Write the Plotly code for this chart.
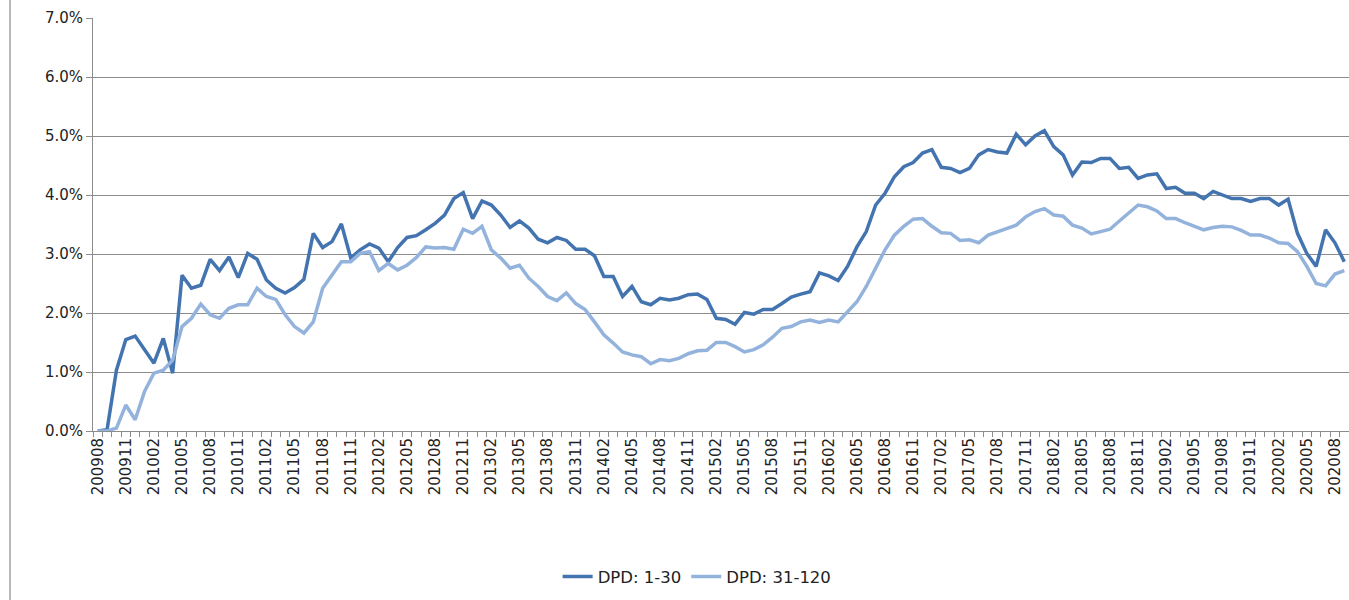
import plotly.graph_objects as go

# Categories: monthly labels 200908 .. 202009
months = []
y, m = 2009, 8
while (y, m) <= (2020, 9):
    months.append(f"{y}{m:02d}")
    m += 1
    if m > 12:
        m, y = 1, y + 1

dpd_1_30 = [
    0.00, 0.02, 1.03, 1.55, 1.61, 1.37, 1.15, 1.57, 0.98, 2.64,
    2.42, 2.47, 2.91, 2.72, 2.95, 2.60, 3.01, 2.91, 2.56, 2.42,
    2.34, 2.43, 2.57, 3.35, 3.11, 3.21, 3.51, 2.93, 3.07, 3.17,
    3.10, 2.87, 3.11, 3.28, 3.31, 3.41, 3.52, 3.66, 3.94, 4.04,
    3.60, 3.90, 3.83, 3.66, 3.45, 3.56, 3.44, 3.25, 3.19, 3.28,
    3.23, 3.08, 3.08, 2.97, 2.62, 2.62, 2.28, 2.45, 2.19, 2.14,
    2.25, 2.22, 2.25, 2.31, 2.32, 2.23, 1.91, 1.89, 1.81, 2.01,
    1.98, 2.06, 2.06, 2.16, 2.27, 2.32, 2.36, 2.68, 2.63, 2.55,
    2.79, 3.12, 3.38, 3.83, 4.03, 4.31, 4.48, 4.55, 4.71, 4.77,
    4.47, 4.45, 4.38, 4.45, 4.68, 4.77, 4.73, 4.71, 5.03, 4.85,
    5.00, 5.09, 4.82, 4.68, 4.34, 4.56, 4.55, 4.62, 4.62, 4.45,
    4.47, 4.28, 4.34, 4.36, 4.11, 4.13, 4.03, 4.03, 3.94, 4.06,
    4.00, 3.94, 3.94, 3.89, 3.94, 3.94, 3.83, 3.93, 3.35, 3.01,
    2.79, 3.41, 3.19, 2.87,
]

dpd_31_120 = [
    0.00, 0.00, 0.05, 0.44, 0.19, 0.67, 0.98, 1.03, 1.20, 1.77,
    1.91, 2.15, 1.97, 1.91, 2.08, 2.14, 2.14, 2.42, 2.28, 2.23,
    1.97, 1.77, 1.66, 1.85, 2.42, 2.64, 2.87, 2.87, 3.01, 3.04,
    2.72, 2.84, 2.73, 2.81, 2.94, 3.12, 3.10, 3.11, 3.08, 3.42,
    3.35, 3.47, 3.07, 2.93, 2.76, 2.81, 2.59, 2.45, 2.28, 2.21,
    2.34, 2.16, 2.06, 1.85, 1.63, 1.49, 1.34, 1.29, 1.26, 1.14,
    1.21, 1.19, 1.23, 1.31, 1.36, 1.37, 1.50, 1.50, 1.43, 1.34,
    1.38, 1.46, 1.59, 1.74, 1.77, 1.85, 1.88, 1.84, 1.88, 1.85,
    2.02, 2.19, 2.45, 2.76, 3.07, 3.32, 3.47, 3.59, 3.60, 3.47,
    3.36, 3.35, 3.23, 3.24, 3.19, 3.32, 3.38, 3.44, 3.49, 3.63,
    3.72, 3.77, 3.66, 3.64, 3.49, 3.44, 3.34, 3.38, 3.42, 3.56,
    3.70, 3.83, 3.80, 3.73, 3.60, 3.60, 3.53, 3.47, 3.41, 3.45,
    3.47, 3.46, 3.40, 3.32, 3.32, 3.27, 3.19, 3.18, 3.04, 2.79,
    2.50, 2.46, 2.66, 2.72,
]

y_ticks = [0, 1, 2, 3, 4, 5, 6, 7]

tick_text = [mo if i % 3 == 0 else "" for i, mo in enumerate(months)]

fig = go.Figure()
fig.add_trace(go.Scatter(x=months, y=dpd_1_30, mode="lines", name="DPD: 1-30",
                         line=dict(color="#4374B0", width=3.5)))
fig.add_trace(go.Scatter(x=months, y=dpd_31_120, mode="lines", name="DPD: 31-120",
                         line=dict(color="#93B3DC", width=3.5)))

font_family = "DejaVu Sans, Verdana, sans-serif"

fig.update_layout(
    width=1349, height=600,
    margin=dict(l=93, r=0, t=18, b=169, autoexpand=False),
    paper_bgcolor="white", plot_bgcolor="white",
    font=dict(family=font_family, size=14, color="#222222"),
    showlegend=True,
    legend=dict(orientation="h", x=0.481, xanchor="center", y=-0.353, yanchor="middle",
                font=dict(family=font_family, size=16.5, color="#222222"),
                tracegroupgap=0),
    xaxis=dict(
        type="category", automargin=False,
        categoryorder="array", categoryarray=months,
        range=[-0.5, len(months) - 0.5],
        tickmode="array", tickvals=months, ticktext=tick_text,
        tickangle=-90, tickson="boundaries",
        ticks="outside", ticklen=5, tickcolor="#8C8C8C",
        showline=True, linecolor="#8C8C8C", linewidth=1,
        showgrid=False, zeroline=False,
        tickfont=dict(family=font_family, size=15, color="#222222"),
    ),
    yaxis=dict(
        range=[0, 7], tickmode="array", tickvals=y_ticks, automargin=False,
        ticktext=[f"{v:.1f}%" for v in y_ticks],
        ticks="outside", ticklen=6, tickcolor="#8C8C8C",
        showline=True, linecolor="#8C8C8C", linewidth=1,
        showgrid=True, gridcolor="#8C8C8C", gridwidth=1,
        zeroline=False,
        tickfont=dict(family=font_family, size=15, color="#222222"),
    ),
    shapes=[dict(type="line", xref="paper", yref="paper",
                 x0=(10 - 93) / 1256, x1=(10 - 93) / 1256, y0=1 + 18 / 413, y1=-169 / 413,
                 line=dict(color="#A0A0A0", width=1.5))],
)

fig.write_html("out.html", config={"displayModeBar": False},
               post_script="document.body.style.margin='0px';document.body.style.overflow='hidden';")
